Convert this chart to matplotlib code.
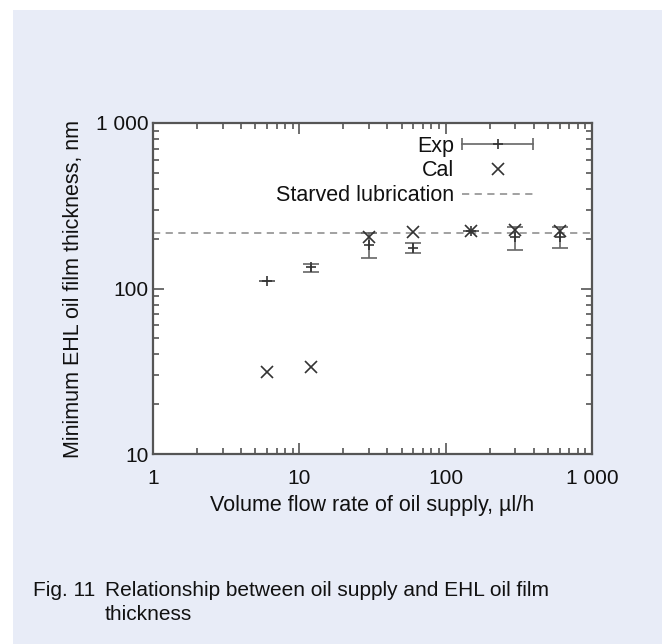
import numpy as np
import matplotlib
matplotlib.use('Agg')
import matplotlib.pyplot as plt
from matplotlib.lines import Line2D
from matplotlib.patches import Rectangle
from matplotlib.legend_handler import HandlerBase
from matplotlib.ticker import FixedLocator, FixedFormatter, NullFormatter

plt.rcParams['font.family'] = ['Liberation Sans', 'DejaVu Sans']

# data
exp_flow = [6, 12, 30, 60, 150, 300, 600]
exp_film = [111, 134, 183, 175, 222, 205, 205]
exp_err_lo = [0, 8, 30, 12, 0, 35, 30]
exp_err_hi = [0, 7, 33, 13, 0, 30, 30]

cal_flow = [6, 12, 30, 60, 150, 300, 600]
cal_film = [31.4, 33.6, 205, 218, 222, 225, 224]

starved_film = 215

x_ticks = [1, 10, 100, 1000]
x_labels = ['1', '10', '100', '1 000']
y_ticks = [10, 100, 1000]
y_labels = ['10', '100', '1 000']

pt_col = '#333333'
bar_col = '#666666'
dash_col = '#9a9a9a'
spine_col = '#555555'
txt_col = '#111111'
fs = 15.5


class ExpHandler(HandlerBase):
    # gnuplot style key: horizontal bar with end caps and a + in the middle
    def create_artists(self, legend, orig_handle, xdescent, ydescent,
                       width, height, fontsize, trans):
        y = height / 2 - ydescent
        x0, x1 = -xdescent, width - xdescent
        bar = Line2D([x0, x1], [y, y], color=bar_col, lw=1.2, transform=trans)
        caps = Line2D([x0, x1], [y, y], ls='none', marker='|', ms=8,
                      mew=1.2, color=bar_col, transform=trans)
        mid = Line2D([(x0 + x1) / 2], [y], ls='none', marker='+', ms=7,
                     mew=1.2, color=pt_col, transform=trans)
        return [bar, caps, mid]


fig = plt.figure(figsize=(6.62, 6.44), dpi=100)
fig.patch.set_facecolor('white')
fig.patches.append(Rectangle((13 / 662, 0), 1, 634 / 644, transform=fig.transFigure,
                             facecolor='#e8ecf7', edgecolor='none', zorder=-10))

ax = fig.add_axes([153 / 662, 190 / 644, 439 / 662, 331 / 644])
ax.set_facecolor('white')
ax.set_xscale('log')
ax.set_yscale('log')
ax.set_xlim(1, 1000)
ax.set_ylim(10, 1000)

ax.axhline(starved_film, color=dash_col, ls=(0, (4, 3)), lw=1.3, zorder=1)
ax.errorbar(exp_flow, exp_film, yerr=[exp_err_lo, exp_err_hi], fmt='+',
            color=pt_col, ms=7, mew=1.2, ecolor=bar_col, elinewidth=1.2,
            capsize=6, capthick=1.2, zorder=3)
ax.plot(cal_flow, cal_film, ls='none', marker='x', ms=8, mew=1.2,
        color=pt_col, zorder=4)

# ticks, gnuplot style: inward on every side
ax.xaxis.set_major_locator(FixedLocator(x_ticks))
ax.xaxis.set_major_formatter(FixedFormatter(x_labels))
ax.yaxis.set_major_locator(FixedLocator(y_ticks))
ax.yaxis.set_major_formatter(FixedFormatter(y_labels))
ax.xaxis.set_minor_formatter(NullFormatter())
ax.yaxis.set_minor_formatter(NullFormatter())
ax.tick_params(which='both', direction='in', top=True, right=True,
               color=spine_col, width=1.2, labelsize=15, labelcolor=txt_col)
ax.tick_params(which='major', length=8)
ax.tick_params(which='minor', length=4)
ax.tick_params(axis='x', which='major', pad=11)
ax.tick_params(axis='y', which='major', pad=3)
for s in ax.spines.values():
    s.set_color(spine_col)
    s.set_linewidth(1.6)

ax.set_xlabel('Volume flow rate of oil supply, µl/h', fontsize=fs,
              color=txt_col, labelpad=5)
ax.set_ylabel('Minimum EHL oil film thickness, nm', fontsize=fs,
              color=txt_col, labelpad=9)

h_exp = Line2D([], [])
h_cal = Line2D([], [], ls='none', marker='x', ms=8, mew=1.2, color=pt_col)
h_st = Line2D([], [], color=dash_col, ls=(0, (4, 3)), lw=1.3)
leg = ax.legend([h_exp, h_cal, h_st], ['Exp', 'Cal', 'Starved lubrication'],
                handler_map={h_exp: ExpHandler()}, loc='upper right',
                bbox_to_anchor=(0.866, 0.962), frameon=False, markerfirst=False,
                fontsize=fs, handlelength=3.3, handletextpad=0.35,
                labelspacing=0.18, borderpad=0, borderaxespad=0)
for t in leg.get_texts():
    t.set_color(txt_col)

fig.text(33 / 662, 1 - 590 / 644, 'Fig. 11', fontsize=15, va='center', color=txt_col)
fig.text(105 / 662, 1 - 590 / 644, 'Relationship between oil supply and EHL oil film',
         fontsize=15, va='center', color=txt_col)
fig.text(105 / 662, 1 - 614 / 644, 'thickness', fontsize=15, va='center', color=txt_col)

fig.savefig('out.png', dpi=100)
